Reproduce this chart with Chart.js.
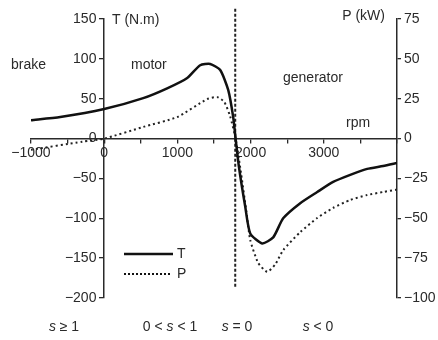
<!DOCTYPE html>
<html lang="en">
<head>
<meta charset="UTF-8" />
<title>Torque and power vs speed</title>
<script src="https://cdn.jsdelivr.net/npm/chart.js"></script>
<style>
  html, body { margin: 0; padding: 0; background: #fff; }
  #wrap { width: 438px; height: 340px; }
</style>
</head>
<body>
<div id="wrap"><canvas id="chart" width="438" height="340"></canvas></div>
<script>
// torque curve T (N.m) against speed (rpm)
const torqueRpm = [-1000, -600, 0, 533, 860, 1134, 1311, 1448, 1585, 1694, 1762, 1795,
  1840, 1926, 1995, 2158, 2309, 2445, 2678, 2910, 3128, 3361, 3593, 3811, 4000];
const torqueNm = [23, 27, 37, 50.7, 63, 76, 92, 93.6, 86, 61, 27, 0,
  -35, -85, -119, -131.5, -124, -100, -81, -67, -54.4, -45.6, -38, -34.4, -30.6];

// power curve P (kW), right axis
const powerRpm = [-1000, -300, 0, 533, 997, 1407, 1544, 1640, 1720, 1795,
  1870, 1940, 1995, 2104, 2227, 2336, 2445, 2678, 2910, 3128, 3361, 3593, 3811, 4000];
const powerKw = [-7, -2, 0, 7.3, 13.5, 24.8, 26, 23, 14, 0,
  -22, -45, -63.6, -78, -83.6, -79, -70, -58.7, -49.8, -43.5, -38.5, -35.4, -33.5, -32];

// synchronous speed marker (dashed vertical)
const syncRpm = 1790;
const syncLineT = [163, -186];

const xTickStep = 500;
const tTickStep = 50;
const pTickStep = 25;

const fmt = v => (v < 0 ? '\u2212' + Math.abs(v) : String(v));
const ink = '#2a2a2a';
const font = '"Liberation Sans", Arial, sans-serif';

const pts = (xs, ys) => xs.map((x, i) => ({ x: x, y: ys[i] }));

function drawRuns(ctx, runs, cx, cy) {
  let w = 0;
  runs.forEach(r => {
    ctx.font = (r.it ? 'italic ' : '') + '14px ' + font;
    r.w = ctx.measureText(r.t).width;
    w += r.w;
  });
  let x = cx - w / 2;
  runs.forEach(r => {
    ctx.font = (r.it ? 'italic ' : '') + '14px ' + font;
    ctx.fillText(r.t, x, cy);
    x += r.w;
  });
}

const notes = {
  id: 'notes',
  afterDraw(chart) {
    const ctx = chart.ctx;
    ctx.save();
    ctx.fillStyle = ink;
    ctx.textBaseline = 'middle';
    ctx.font = '14px ' + font;
    ctx.textAlign = 'left';
    ctx.fillText('T (N.m)', 112, 20);
    ctx.fillText('brake', 11, 65);
    ctx.fillText('motor', 131, 65);
    ctx.fillText('generator', 283, 78);
    ctx.fillText('rpm', 346, 123);
    ctx.textAlign = 'right';
    ctx.fillText('P (kW)', 385, 16);

    // slip regions along the bottom
    ctx.textAlign = 'left';
    drawRuns(ctx, [{ t: 's', it: true }, { t: ' \u2265 1' }], 64, 327);
    drawRuns(ctx, [{ t: '0 < ' }, { t: 's', it: true }, { t: ' < 1' }], 170, 327);
    drawRuns(ctx, [{ t: 's', it: true }, { t: ' = 0' }], 237, 327);
    drawRuns(ctx, [{ t: 's', it: true }, { t: ' < 0' }], 318, 327);

    // legend
    ctx.strokeStyle = '#111';
    ctx.lineWidth = 2.5;
    ctx.beginPath();
    ctx.moveTo(124, 254);
    ctx.lineTo(173, 254);
    ctx.stroke();
    ctx.lineWidth = 2;
    ctx.setLineDash([2, 2]);
    ctx.beginPath();
    ctx.moveTo(124, 274);
    ctx.lineTo(172, 274);
    ctx.stroke();
    ctx.setLineDash([]);
    ctx.font = '14px ' + font;
    ctx.fillText('T', 177, 254);
    ctx.fillText('P', 177, 274);
    ctx.restore();
  }
};

const axisGrid = { display: true, drawOnChartArea: false, drawTicks: true, tickLength: 4, color: ink, lineWidth: 1.3 };
const axisBorder = { display: true, color: ink, width: 1.5 };
const tickFont = { family: font, size: 14 };

new Chart(document.getElementById('chart'), {
  type: 'line',
  data: {
    datasets: [
      {
        label: 'T',
        data: pts(torqueRpm, torqueNm),
        yAxisID: 'y',
        borderColor: '#111',
        borderWidth: 2.5,
        pointRadius: 0,
        tension: 0.2
      },
      {
        label: 'P',
        data: pts(powerRpm, powerKw),
        yAxisID: 'y1',
        borderColor: '#222',
        borderWidth: 2,
        borderDash: [2, 3],
        pointRadius: 0,
        tension: 0.2
      },
      {
        label: 'sync',
        data: syncLineT.map(t => ({ x: syncRpm, y: t })),
        yAxisID: 'y',
        borderColor: '#222',
        borderWidth: 2,
        borderDash: [3, 2],
        pointRadius: 0,
        clip: false
      }
    ]
  },
  options: {
    responsive: false,
    devicePixelRatio: 1,
    animation: false,
    layout: { padding: { left: 31, top: 19, bottom: 42, right: 0 } },
    plugins: { legend: { display: false }, tooltip: { enabled: false } },
    scales: {
      x: {
        type: 'linear',
        min: -1000,
        max: 4000,
        position: { y: 0 },
        grid: axisGrid,
        border: axisBorder,
        ticks: {
          stepSize: xTickStep,
          autoSkip: false,
          maxRotation: 0,
          padding: 2,
          color: ink,
          font: tickFont,
          callback: v => (v % 1000 === 0 && v < 4000 ? fmt(v) : '')
        }
      },
      y: {
        type: 'linear',
        min: -200,
        max: 150,
        position: { x: 0 },
        grid: axisGrid,
        border: axisBorder,
        // object-positioned axes put labels flush on the line, so pad with spaces
        ticks: { stepSize: tTickStep, color: ink, font: tickFont, callback: v => fmt(v) + '  ' }
      },
      y1: {
        type: 'linear',
        min: -100,
        max: 75,
        position: 'right',
        grid: axisGrid,
        border: axisBorder,
        afterFit: s => { s.width = 41; },
        ticks: { stepSize: pTickStep, padding: 3, color: ink, font: tickFont, callback: v => fmt(v) }
      }
    }
  },
  plugins: [notes]
});
</script>
</body>
</html>
